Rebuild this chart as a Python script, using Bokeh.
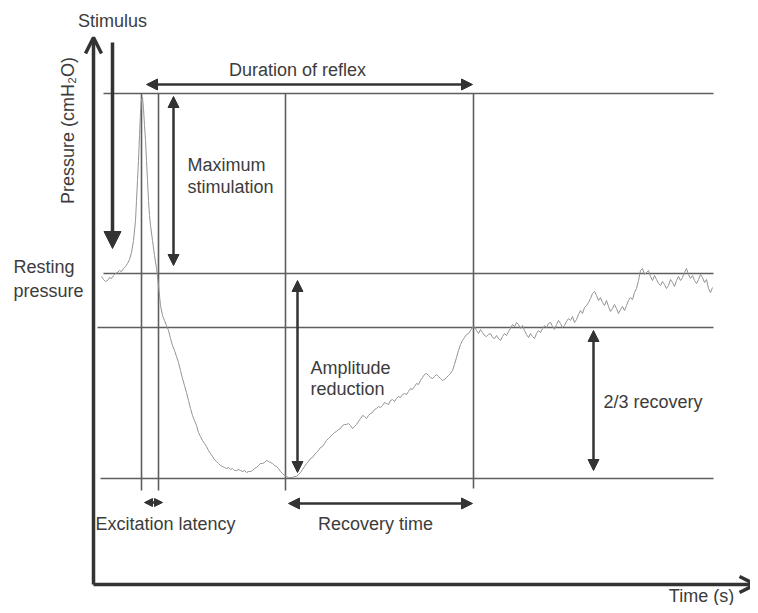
from bokeh.plotting import figure
from bokeh.models import Range1d, Arrow, NormalHead, OpenHead, ColumnDataSource
from bokeh.core.properties import value
from bokeh.embed import file_html
from bokeh.resources import INLINE
import math

# ---- Data (diagram units read from the schematic; y grows downward on page) ----
trace_time = [101,103,105,107,109,111,113,115,117,119,121,123,125,127,129,131,133,135,136,137,138,139,140,141,142,143,144,145,146,147,148,149,150,152,154,156,158,160,162,164,166,168,170,172,174,176,178,180,182,184,186,188,190,192,194,196,198,200,202,204,206,208,210,212,214,216,218,220,222,224,226,228,230,232,234,236,238,240,242,244,246,248,250,252,254,256,258,260,262,264,266,268,270,272,274,276,278,280,282,284,286,288,290,292,294,296,298,300,302,304,306,308,310,312,314,316,318,320,322,324,326,328,330,332,334,336,338,340,342,344,346,348,350,352,354,356,358,360,362,364,366,368,370,372,374,376,378,380,382,384,386,388,390,392,394,396,398,400,402,404,406,408,410,412,414,416,418,420,422,424,426,428,430,432,434,436,438,440,442,444,446,448,450,452,454,456,458,460,462,464,466,468,470,472,474,476,478,480,482,484,486,488,490,492,494,496,498,500,502,504,506,508,510,512,514,516,518,520,522,524,526,528,530,532,534,536,538,540,542,544,546,548,550,552,554,556,558,560,562,564,566,568,570,572,574,576,578,580,582,584,586,588,590,592,594,596,598,600,602,604,606,608,610,612,614,616,618,620,622,624,626,628,630,632,634,636,638,640,642,644,646,648,650,652,654,656,658,660,662,664,666,668,670,672,674,676,678,680,682,684,686,688,690,692,694,696,698,700,702,704,706,708,710,712]
trace_level = [276,279,281,280,277,278,275,273,272,270,271,268,266,263,259,252,240,220,200,180,160,135,112,98,97,108,125,140,160,180,200,215,225,240,255,268,285,305,315,320,325,330,338,345,350,356,362,370,378,385,392,400,408,415,420,425,432,436,440,443,446,450,453,456,459,461,463,465,466,467,468,467,469,468,470,470,469,470,471,470,472,471,471,470,468,467,465,463,463,462,460,461,462,463,465,466,468,471,473,475,476,477,477,477,476,476,474,472,469,466,463,461,458,457,454,452,450,447,446,443,440,438,436,434,432,431,429,428,425,424,424,423,425,428,426,424,421,418,415,416,418,415,413,412,409,408,406,407,405,402,403,404,400,399,401,398,396,397,394,393,394,391,388,389,386,383,384,380,377,374,373,375,377,378,376,374,376,378,380,379,377,375,373,370,364,357,350,344,340,337,334,333,330,327,326,330,333,329,332,335,336,334,333,337,338,335,338,340,336,333,335,331,328,324,326,322,324,328,325,330,334,337,333,336,338,333,330,332,328,325,327,323,322,326,329,324,320,323,327,325,321,318,320,316,322,319,314,310,313,307,305,302,298,293,291,295,300,297,302,305,300,306,311,308,304,308,313,309,306,310,305,300,297,299,292,288,280,270,268,274,272,270,276,280,275,279,283,285,281,284,288,285,279,282,286,280,276,280,277,272,268,274,278,275,280,283,279,274,277,282,279,288,292,287]

# reference levels: peak, resting pressure, 2/3 recovery, minimum
levels = [93, 273, 327, 478]
# event times: stimulus peak, excitation onset, minimum, 2/3 recovery
events = [141, 158, 285, 473]
stimulus_time = 112

labels_text = ["Stimulus", "Duration of reflex", "Maximum", "stimulation",
               "Resting", "pressure", "Amplitude", "reduction", "2/3 recovery",
               "Excitation latency", "Recovery time", "Time (s)"]
y_label = "Pressure (cmH\u2082O)"

# ---- Figure ----
p = figure(width=750, height=605, x_range=Range1d(0, 750), y_range=Range1d(605, 0),
           output_backend="svg", toolbar_location=None, min_border=0)
p.axis.visible = False
p.grid.visible = False
p.outline_line_color = None
p.background_fill_color = "white"
p.border_fill_color = "white"

REF = "#5e5e5e"
INK = "#333333"
TXT = "#3c3c3c"

# horizontal reference lines
p.segment(x0=[103, 103, 97, 100], x1=[713] * 4, y0=levels, y1=levels,
          line_color=REF, line_width=1.6)
# vertical event lines
p.segment(x0=events, x1=events, y0=[levels[0]] * 4, y1=[490, 490, 490, 488],
          line_color=REF, line_width=1.6)

# pressure trace
p.line(trace_time, trace_level, line_color="#939393", line_width=1.0)

# axes as arrows
p.add_layout(Arrow(x_start=93, y_start=584, x_end=93, y_end=37,
                   line_color=INK, line_width=3.5,
                   end=OpenHead(size=16, line_color=INK, line_width=3.5)))
p.add_layout(Arrow(x_start=93, y_start=584, x_end=755, y_end=584,
                   line_color=INK, line_width=3.5,
                   end=OpenHead(size=16, line_color=INK, line_width=3.5)))

def head(sz):
    return NormalHead(size=sz, fill_color=INK, line_color=INK, line_width=1)

# stimulus arrow
p.add_layout(Arrow(x_start=stimulus_time, y_start=42, x_end=stimulus_time, y_end=248,
                   line_color=INK, line_width=3.5, end=head(17)))
# duration of reflex
p.add_layout(Arrow(x_start=events[0] + 5, y_start=84, x_end=events[3] - 1, y_end=84,
                   line_color=INK, line_width=2.5, start=head(11), end=head(11)))
# maximum stimulation
p.add_layout(Arrow(x_start=173, y_start=levels[0] + 3, x_end=173, y_end=levels[1] - 8,
                   line_color=INK, line_width=2.5, start=head(11), end=head(11)))
# amplitude reduction
p.add_layout(Arrow(x_start=297, y_start=levels[1] + 7, x_end=297, y_end=levels[3] - 6,
                   line_color=INK, line_width=2.5, start=head(11), end=head(11)))
# 2/3 recovery
p.add_layout(Arrow(x_start=593, y_start=levels[2] + 3, x_end=593, y_end=levels[3] - 8,
                   line_color=INK, line_width=2.5, start=head(11), end=head(11)))
# excitation latency
p.add_layout(Arrow(x_start=144, y_start=502, x_end=162, y_end=502,
                   line_color=INK, line_width=2.5, start=head(8), end=head(8)))
# recovery time
p.add_layout(Arrow(x_start=events[2] + 3, y_start=503, x_end=events[3] - 1, y_end=503,
                   line_color=INK, line_width=2.5, start=head(11), end=head(11)))

# texts
font = value("Liberation Sans")
txt_x = [112, 297, 187, 187, 13, 13, 310, 310, 603, 95, 375, 701]
txt_y = [20, 69, 164, 186, 266, 290, 367, 388, 401, 523, 523, 595]
txt_align = ["center", "center", "left", "left", "left", "left", "left", "left",
             "left", "left", "center", "center"]
src = ColumnDataSource(dict(x=txt_x, y=txt_y, text=labels_text, align=txt_align))
p.text(x="x", y="y", text="text", source=src, text_align="align",
       text_baseline="middle", text_font=font, text_font_size="18px",
       text_color=TXT)

p.text(x=[67], y=[130], text=[y_label], angle=math.pi / 2, text_align="center",
       text_baseline="middle", text_font=font, text_font_size="18px",
       text_color=TXT)

open("out.html", "w").write(file_html(p, INLINE))
